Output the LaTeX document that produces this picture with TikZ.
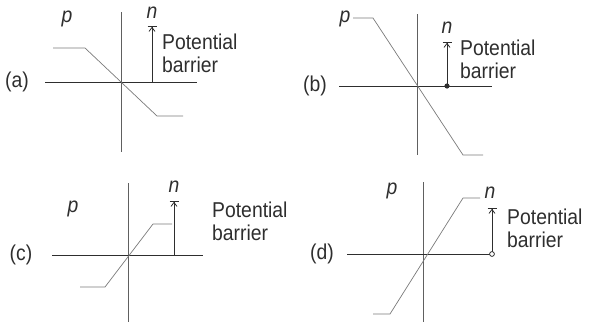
\documentclass[tikz,border=0pt]{standalone}
\usepackage{fontspec}
\setmainfont{Liberation Sans}[FakeStretch=0.9]
\usetikzlibrary{arrows.meta}
\definecolor{axisgray}{HTML}{606060}
\definecolor{curvegray}{HTML}{7A7A7A}
\definecolor{inkgray}{HTML}{2E2E2E}

\begin{document}
\begin{tikzpicture}[
  x=1pt,y=-1pt,
  axis/.style={draw=axisgray,line width=0.8pt},
  haxis/.style={draw=inkgray,line width=0.8pt},
  curve/.style={draw=curvegray,line width=0.7pt},
  barrier/.style={draw=inkgray,line width=0.8pt,-{Straight Barb[length=4pt,width=6pt]Bar[width=9pt]}},
  lbl/.style={font=\fontsize{21.5}{23}\selectfont,text=inkgray,inner sep=0pt},
  txt/.style={lbl,align=left,anchor=west},
  var/.style={lbl,font=\fontsize{21.5}{23}\selectfont\itshape}
]
\useasboundingbox (0,0) rectangle (589,330);
% (a)
\draw[axis] (121,12) -- (121,152);
\draw[haxis] (45,82) -- (197,82);
\draw[curve] (53,48) -- (85,48) -- (157,116) -- (183,116);
\coordinate (a-foot) at (152,82);
\coordinate (a-top) at (152,26);
\draw[barrier] (a-foot) -- (a-top);
\node[lbl] (a-lab) at (17,82) {(a)};
\node[var] (a-p) at (67,19) {p};
\node[var] (a-n) at (152,13) {n};
\node[txt] (a-txt) at (162,53) {Potential\\barrier};
% (b)
\draw[axis] (417,14) -- (417,155);
\draw[haxis] (339,86) -- (492,86);
\draw[curve] (353,18) -- (373,18) -- (463,155) -- (483,155);
\coordinate (b-foot) at (447,86);
\coordinate (b-top) at (447,42);
\draw[barrier] (b-foot) -- (b-top);
\fill[inkgray] (b-foot) circle (2.6);
\node[lbl] (b-lab) at (315,86) {(b)};
\node[var] (b-p) at (345,19) {p};
\node[var] (b-n) at (447,28) {n};
\node[txt] (b-txt) at (460,59) {Potential\\barrier};
% (c)
\draw[axis] (128,183) -- (128,322);
\draw[haxis] (52,255) -- (203,255);
\draw[curve] (80,287) -- (105,287) -- (153,224) -- (172,224);
\coordinate (c-foot) at (174,255);
\coordinate (c-top) at (174,201);
\draw[barrier] (c-foot) -- (c-top);
\node[lbl] (c-lab) at (21,255) {(c)};
\node[var] (c-p) at (73,209) {p};
\node[var] (c-n) at (174,187) {n};
\node[txt] (c-txt) at (212,221) {Potential\\barrier};
% (d)
\draw[axis] (423,182) -- (423,322);
\draw[haxis] (347,254) -- (490,254);
\draw[curve] (373,314) -- (390,314) -- (463,198) -- (480,198);
\coordinate (d-foot) at (492,254);
\coordinate (d-top) at (492,208);
\draw[barrier] (d-foot) -- (d-top);
\draw[inkgray,line width=0.8pt,fill=white] (d-foot) circle (2.4);
\node[lbl] (d-lab) at (322,254) {(d)};
\node[var] (d-p) at (392,191) {p};
\node[var] (d-n) at (490,193) {n};
\node[txt] (d-txt) at (507,228) {Potential\\barrier};
\end{tikzpicture}
\end{document}
